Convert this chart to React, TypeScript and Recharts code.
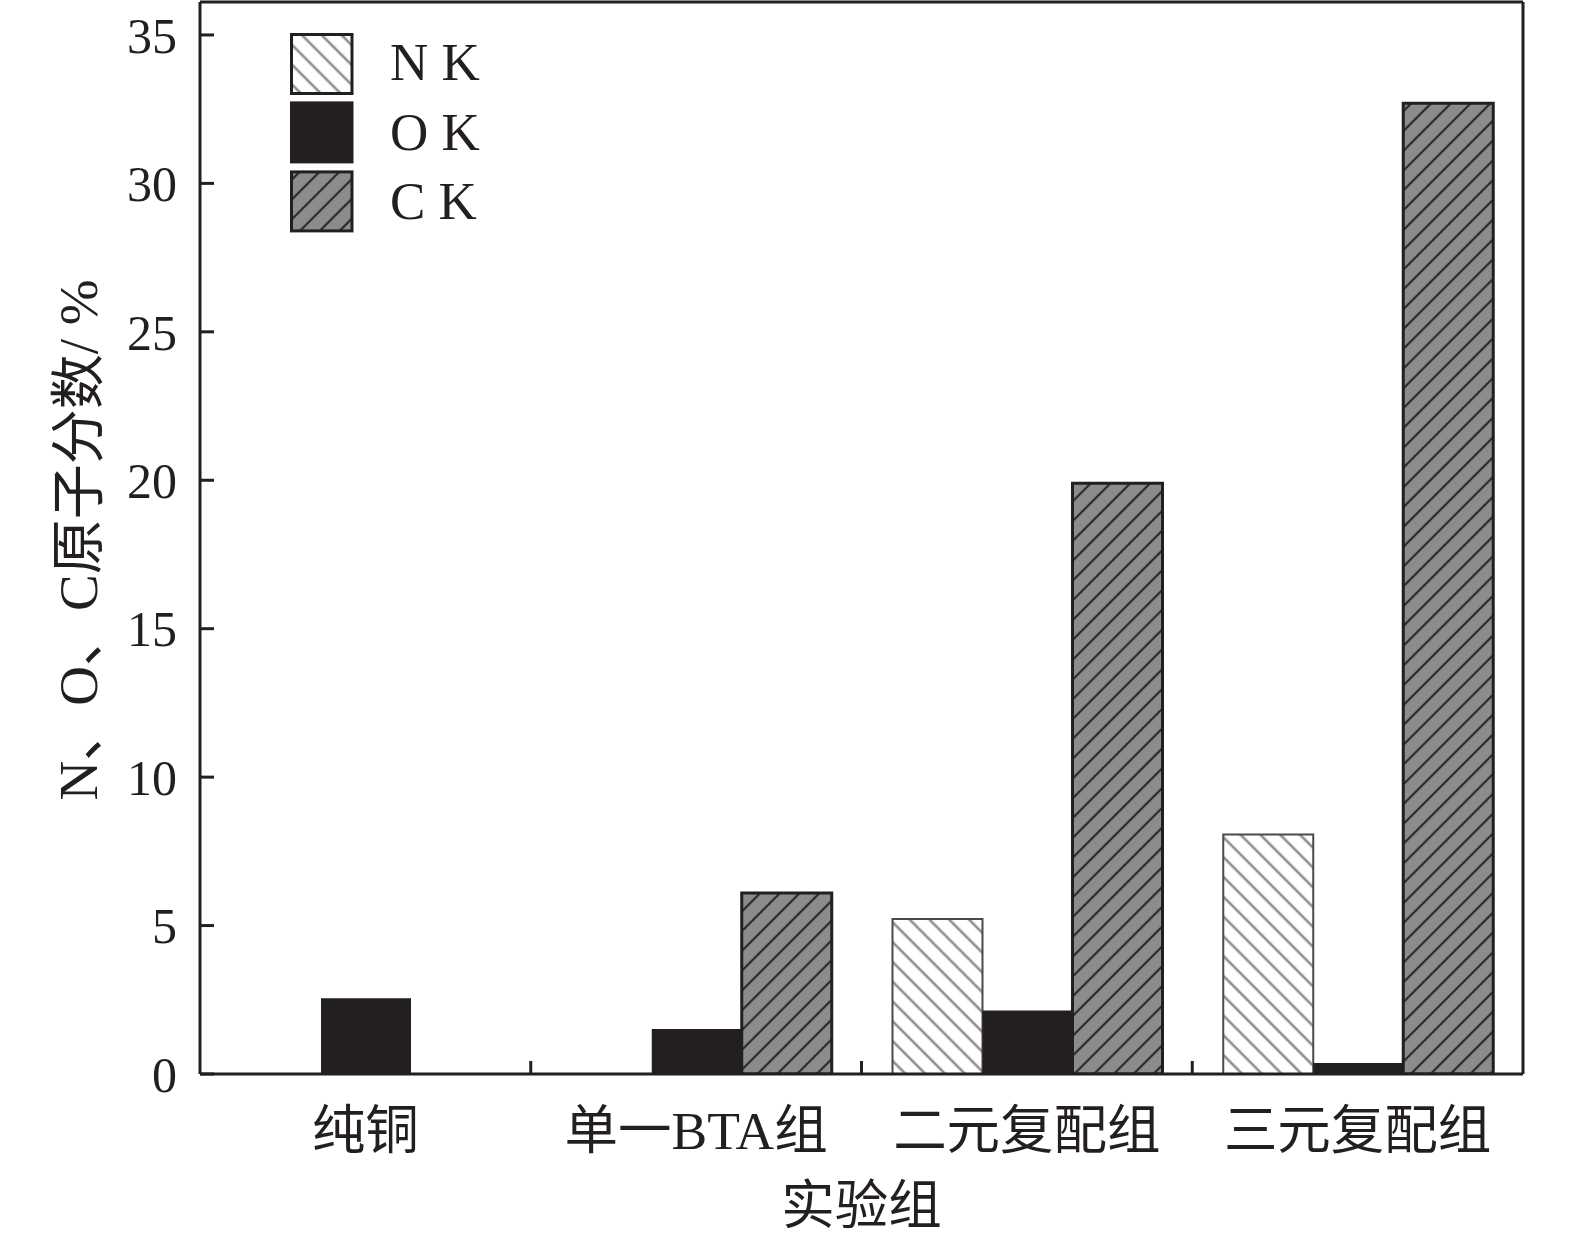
import React from 'react';
import { BarChart, Bar, XAxis, YAxis, Legend } from 'recharts';

document.body.style.margin = '0';

const categories = ['纯铜', '单一BTA组', '二元复配组', '三元复配组'];
const nK = [0, 0, 5.22, 8.07];
const oK = [2.55, 1.52, 2.14, 0.37];
const cK = [0, 6.1, 19.9, 32.7];
const yTicks = [0, 5, 10, 15, 20, 25, 30, 35];
const seriesKeys = ['n', 'o', 'c'];
const seriesNames = ['N K', 'O K', 'C K'];

const data = categories.map((name, i) => ({ name, n: nK[i], o: oK[i], c: cK[i] }));

const INK = '#231f20';
const SERIF = "'Liberation Serif', 'Times New Roman', 'Noto Sans CJK SC', serif";

function CatTick(props: any) {
  const { x, y, payload, index, visibleTicksCount, width } = props;
  const half = payload && typeof payload.offset === 'number' && payload.offset > 0
    ? payload.offset
    : width / visibleTicksCount / 2;
  return (
    <g>
      <text x={x} y={y + 75} textAnchor="middle" fontSize={53.5} fontFamily={SERIF} fill={INK}>
        {payload.value}
      </text>
      {index < visibleTicksCount - 1 && (
        <line x1={x + half} x2={x + half} y1={y} y2={y - 13} stroke={INK} strokeWidth={3} />
      )}
    </g>
  );
}

function renderYLabel(props: any) {
  const vb = props.viewBox || {};
  const cx = (vb.x || 0) + 78;
  const cy = (vb.y || 0) + (vb.height || 0) / 2 + 2;
  return (
    <text
      x={cx}
      y={cy}
      transform={`rotate(-90 ${cx} ${cy})`}
      textAnchor="middle"
      dominantBaseline="central"
      fontSize={55}
      fontFamily={SERIF}
      fill={INK}
    >
      N、O、C原子分数/ %
    </text>
  );
}

function renderXLabel(props: any) {
  const vb = props.viewBox || {};
  const cx = (vb.x || 0) + (vb.width || 0) / 2;
  const by = (vb.y || 0) + 150;
  return (
    <text x={cx} y={by} textAnchor="middle" fontSize={53.5} fontFamily={SERIF} fill={INK}>
      实验组
    </text>
  );
}

const legendFills: Record<string, string> = { n: 'url(#hatchN)', o: INK, c: 'url(#hatchC)' };

function LegendContent(props: any) {
  const payload = props.payload || [];
  const rowsY = [0, 68.4, 137.4];
  const baseY = [47.4, 117.4, 185.7];
  return (
    <svg width={240} height={205} style={{ display: 'block', overflow: 'visible' }}>
      {seriesKeys.map((key, i) => {
        const entry = payload.find((p: any) => p.dataKey === key);
        const label = entry ? entry.value : seriesNames[i];
        return (
          <g key={key}>
            <rect
              x={1.5}
              y={rowsY[i] + 1.5}
              width={60.5}
              height={59}
              fill={legendFills[key]}
              stroke={INK}
              strokeWidth={3}
            />
            <text x={100} y={baseY[i]} fontSize={53} fontFamily={SERIF} fill={INK}>
              {label}
            </text>
          </g>
        );
      })}
    </svg>
  );
}

export default function App() {
  return (
    <div style={{ width: 1575, height: 1236, background: '#fff' }}>
      <BarChart
        width={1575}
        height={1236}
        data={data}
        margin={{ top: 1, right: 51, left: 0, bottom: 0 }}
        barCategoryGap={31}
        barGap={0}
      >
        <defs>
          <pattern id="hatchN" width={14} height={14} patternUnits="userSpaceOnUse" patternTransform="rotate(-45)">
            <rect width={14} height={14} fill="#ffffff" />
            <line x1={7} y1={0} x2={7} y2={14} stroke="#8f8f8f" strokeWidth={2.6} />
          </pattern>
          <pattern id="hatchC" width={14} height={14} patternUnits="userSpaceOnUse" patternTransform="rotate(45)">
            <rect width={14} height={14} fill="#8c8c8c" />
            <line x1={7} y1={0} x2={7} y2={14} stroke="#2a2a2a" strokeWidth={2.2} />
          </pattern>
        </defs>
        <XAxis
          dataKey="name"
          height={162}
          axisLine={{ stroke: INK, strokeWidth: 3 }}
          tickLine={false}
          tickSize={0}
          tickMargin={0}
          tick={<CatTick />}
          interval={0}
          label={renderXLabel}
        />
        <XAxis
          xAxisId="top"
          dataKey="name"
          orientation="top"
          height={1}
          tickSize={0}
          axisLine={{ stroke: INK, strokeWidth: 3 }}
          tick={false}
          tickLine={false}
        />
        <YAxis
          width={200}
          domain={[0, 36.11]}
          ticks={yTicks}
          allowDataOverflow
          axisLine={{ stroke: INK, strokeWidth: 3 }}
          tickLine={{ stroke: INK, strokeWidth: 3 }}
          tickSize={-14}
          tickMargin={37}
          tick={{ fontSize: 50, fontFamily: SERIF, fill: INK }}
          label={renderYLabel}
        />
        <YAxis
          yAxisId="right"
          orientation="right"
          width={1}
          tickSize={0}
          domain={[0, 36.11]}
          ticks={yTicks}
          axisLine={{ stroke: INK, strokeWidth: 3 }}
          tick={false}
          tickLine={false}
        />
        <Legend
          layout="vertical"
          align="center"
          verticalAlign="middle"
          content={<LegendContent />}
          wrapperStyle={{ position: 'absolute', left: 290, top: 33, width: 240, height: 205 }}
        />
        <Bar dataKey="n" name={seriesNames[0]} fill="url(#hatchN)" stroke="#4a4a4a" strokeWidth={2} isAnimationActive={false} />
        <Bar dataKey="o" name={seriesNames[1]} fill={INK} isAnimationActive={false} />
        <Bar dataKey="c" name={seriesNames[2]} fill="url(#hatchC)" stroke={INK} strokeWidth={3} isAnimationActive={false} />
      </BarChart>
    </div>
  );
}
